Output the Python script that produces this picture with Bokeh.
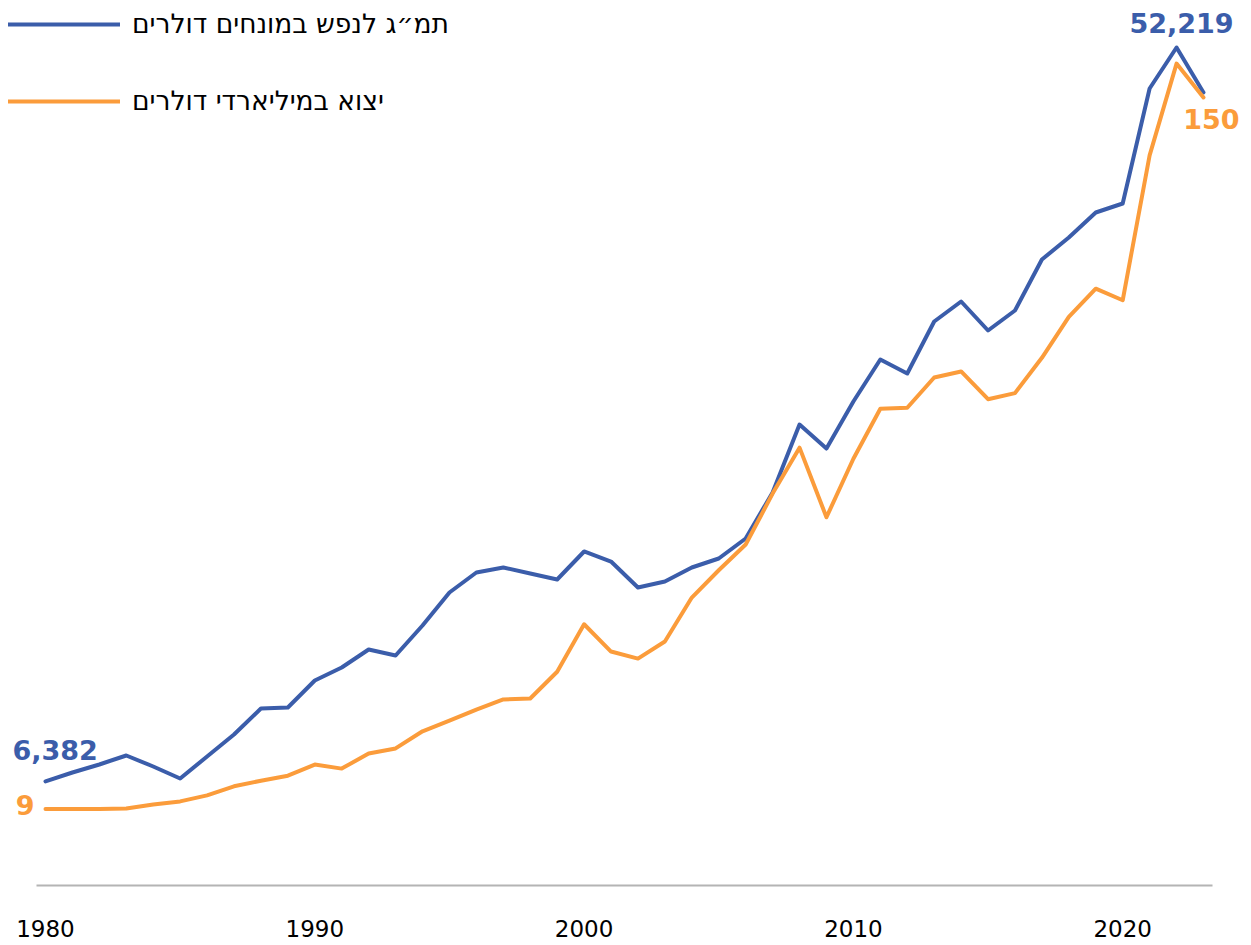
from bokeh.plotting import figure
from bokeh.models import Range1d, FixedTicker, ColumnDataSource
from bokeh.core.properties import value
from bokeh.embed import file_html
from bokeh.resources import INLINE

years = list(range(1980, 2024))
gdp_per_capita = [6382, 6978, 7511, 8109, 7378, 6579, 8043, 9506, 11236, 11303,
                  13099, 13964, 15161, 14762, 16758, 18953, 20284, 20616, 20217, 19818,
                  21681, 21015, 19286, 19685, 20616, 21215, 22545, 25605, 30129, 28532,
                  31659, 34453, 33522, 36981, 38312, 36382, 37713, 41106, 42569, 44232,
                  44831, 52481, 55209, 52219]
exports_bn = [9.0, 9.0, 9.0, 9.1, 9.9, 10.5, 11.7, 13.5, 14.6, 15.6,
              17.8, 17.0, 20.0, 21.0, 24.4, 26.5, 28.7, 30.7, 30.9, 36.2,
              45.6, 40.2, 38.8, 42.2, 50.9, 56.3, 61.4, 71.5, 80.6, 66.8,
              78.4, 88.3, 88.5, 94.5, 95.7, 90.2, 91.4, 98.4, 106.5, 112.1,
              109.8, 138.5, 156.7, 150]
tick_years = [1980, 1990, 2000, 2010, 2020]
legend_gdp = "תמ״ג לנפש במונחים דולרים"
legend_exp = "יצוא במיליארדי דולרים"

BLUE = "#3b5daa"
ORANGE = "#fb9c3b"

src = ColumnDataSource(dict(year=years, gdp=gdp_per_capita, exp=exports_bn))

p = figure(width=1250, height=944, output_backend="svg", toolbar_location=None,
           x_range=Range1d(1978.329, 2024.746), y_range=Range1d(-539, 58336),
           min_border_left=0, min_border_right=0, min_border_top=0, min_border_bottom=59,
           outline_line_color=None, background_fill_color="white", border_fill_color="white")
p.extra_y_ranges = {"exp": Range1d(-6.16, 169.2)}
p.yaxis.visible = False
p.xgrid.visible = False
p.ygrid.visible = False

p.line("year", "gdp", source=src, color=BLUE, line_width=4, line_join="round",
       line_cap="round", legend_label=legend_gdp)
p.line("year", "exp", source=src, color=ORANGE, line_width=4, line_join="round",
       line_cap="round", y_range_name="exp", legend_label=legend_exp)

xa = p.xaxis[0]
xa.ticker = FixedTicker(ticks=tick_years)
xa.bounds = (1979.666, 2023.337)
xa.axis_line_color = "#b4b4b4"
xa.axis_line_width = 2
xa.major_tick_line_color = None
xa.minor_tick_line_color = None
xa.major_label_text_font = "DejaVu Sans"
xa.major_label_text_font_size = "23px"
xa.major_label_text_color = "#000000"
xa.major_label_standoff = 28

lab_font = value("DejaVu Sans")
p.text(x=[years[0]], y=[gdp_per_capita[0]], text=[f"{gdp_per_capita[0]:,}"],
       text_font=lab_font, text_font_style="bold", text_font_size="27px",
       text_color=BLUE, text_align="left", text_baseline="middle",
       x_offset=-33, y_offset=-31)
p.text(x=[years[0]], y=[exports_bn[0]], text=[f"{exports_bn[0]:.0f}"], y_range_name="exp",
       text_font=lab_font, text_font_style="bold", text_font_size="27px",
       text_color=ORANGE, text_align="right", text_baseline="middle",
       x_offset=-11, y_offset=-4)
p.text(x=[years[-1]], y=[gdp_per_capita[-1]], text=[f"{gdp_per_capita[-1]:,}"],
       text_font=lab_font, text_font_style="bold", text_font_size="27px",
       text_color=BLUE, text_align="center", text_baseline="middle",
       x_offset=-22, y_offset=-69)
p.text(x=[years[-1]], y=[exports_bn[-1]], text=[f"{exports_bn[-1]:.0f}"], y_range_name="exp",
       text_font=lab_font, text_font_style="bold", text_font_size="27px",
       text_color=ORANGE, text_align="center", text_baseline="middle",
       x_offset=8, y_offset=22)

lg = p.legend[0]
lg.location = "top_left"
lg.margin = 8
lg.padding = 0
lg.border_line_color = None
lg.background_fill_alpha = 0
lg.glyph_width = 112
lg.glyph_height = 22
lg.label_height = 22
lg.label_standoff = 12
lg.spacing = 46
lg.label_text_font = "DejaVu Sans"
lg.label_text_font_size = "26.5px"
lg.label_text_color = "#000000"

open("out.html", "w").write(file_html(p, INLINE))
